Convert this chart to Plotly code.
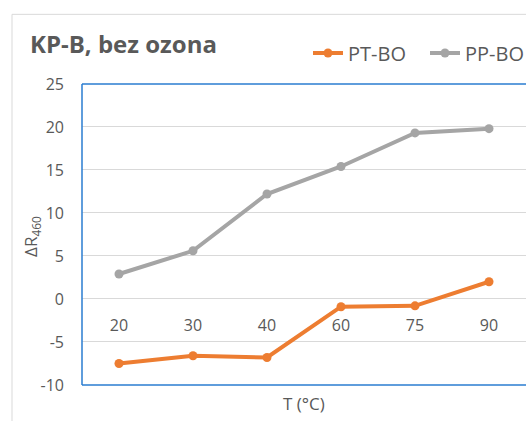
import plotly.graph_objects as go

# Temperature categories and the two measured series
temps = ["20", "30", "40", "60", "75", "90"]
pt_bo = [-7.5, -6.6, -6.8, -0.9, -0.8, 2.0]
pp_bo = [2.9, 5.6, 12.2, 15.4, 19.3, 19.8]

y_ticks = [-10, -5, 0, 5, 10, 15, 20, 25]
y_labels = ["-10", "-5", "0", "5", "10", "15", "20", "25"]

FONT = "Open Sans"
TXT = "#595959"
ORANGE = "#ED7D31"
GRAY = "#A5A5A5"
BLUE = "#2A7DD1"

W, H = 526, 421
ML, MT, MB = 82, 82, 36
plot_h = H - MT - MB
plot_w = W - ML


def px_x(px):
    return (px - ML) / plot_w


def px_y(py):
    return (H - MB - py) / plot_h


fig = go.Figure()
fig.add_trace(go.Scatter(
    x=temps, y=pt_bo, name="PT-BO", mode="lines+markers",
    line=dict(color=ORANGE, width=4), marker=dict(color=ORANGE, size=9),
))
fig.add_trace(go.Scatter(
    x=temps, y=pp_bo, name="PP-BO", mode="lines+markers",
    line=dict(color=GRAY, width=4), marker=dict(color=GRAY, size=9),
))

y_min, y_max = y_ticks[0], y_ticks[-1]
zero_pos = (0 - y_min) / (y_max - y_min)

shapes = [
    # chart-area frame
    dict(type="line", xref="paper", yref="paper", x0=px_x(12), x1=px_x(12),
         y0=px_y(12), y1=px_y(430), line=dict(color="#D9D9D9", width=1)),
    dict(type="line", xref="paper", yref="paper", x0=px_x(12), x1=px_x(540),
         y0=px_y(12), y1=px_y(12), line=dict(color="#D9D9D9", width=1)),
    # plot-area border (left, top, bottom)
    dict(type="line", xref="paper", yref="paper", x0=0, x1=0, y0=0, y1=1,
         line=dict(color=BLUE, width=1.5)),
    dict(type="line", xref="paper", yref="paper", x0=0, x1=1.05, y0=1, y1=1,
         line=dict(color=BLUE, width=1.5)),
    dict(type="line", xref="paper", yref="paper", x0=0, x1=1.05, y0=0, y1=0,
         line=dict(color=BLUE, width=1.5)),
]

fig.update_layout(
    width=W, height=H,
    margin=dict(l=ML, r=0, t=MT, b=MB),
    paper_bgcolor="white", plot_bgcolor="white",
    font=dict(family=FONT, color=TXT, size=16),
    title=dict(text="<b>KP-B, bez ozona</b>", x=30 / W, xanchor="left",
               y=1 - 45 / H, yanchor="middle",
               font=dict(family=FONT, size=24, color=TXT)),
    showlegend=True,
    legend=dict(orientation="h", xref="container", yref="container",
                x=308 / W, xanchor="left", y=1 - 53 / H, yanchor="middle",
                font=dict(family=FONT, size=20, color=TXT),
                bgcolor="rgba(0,0,0,0)", itemwidth=30, entrywidth=72,
                tracegroupgap=0),
    xaxis=dict(type="category", anchor="free", position=zero_pos,
               range=[-0.5, len(temps) - 0.5],
               showline=False, showgrid=False, zeroline=False, ticks="",
               ticklabelstandoff=15, tickfont=dict(size=16, color=TXT)),
    yaxis=dict(range=[y_min, y_max], tickvals=y_ticks, ticktext=y_labels,
               showline=False, zeroline=False, ticks="",
               gridcolor="#D9D9D9", gridwidth=1,
               ticklabelstandoff=17, tickfont=dict(size=16, color=TXT)),
    shapes=shapes,
    annotations=[
        dict(text="T (°C)", xref="paper", yref="paper", x=0.5, y=px_y(404),
             xanchor="center", yanchor="middle", showarrow=False,
             font=dict(size=17, color=TXT)),
        dict(text="ΔR<sub>460</sub>", xref="paper", yref="paper",
             x=px_x(32), y=px_y(236), textangle=-90, xanchor="center",
             yanchor="middle", showarrow=False,
             font=dict(size=17, color=TXT)),
    ],
)

fig.write_html("out.html")
